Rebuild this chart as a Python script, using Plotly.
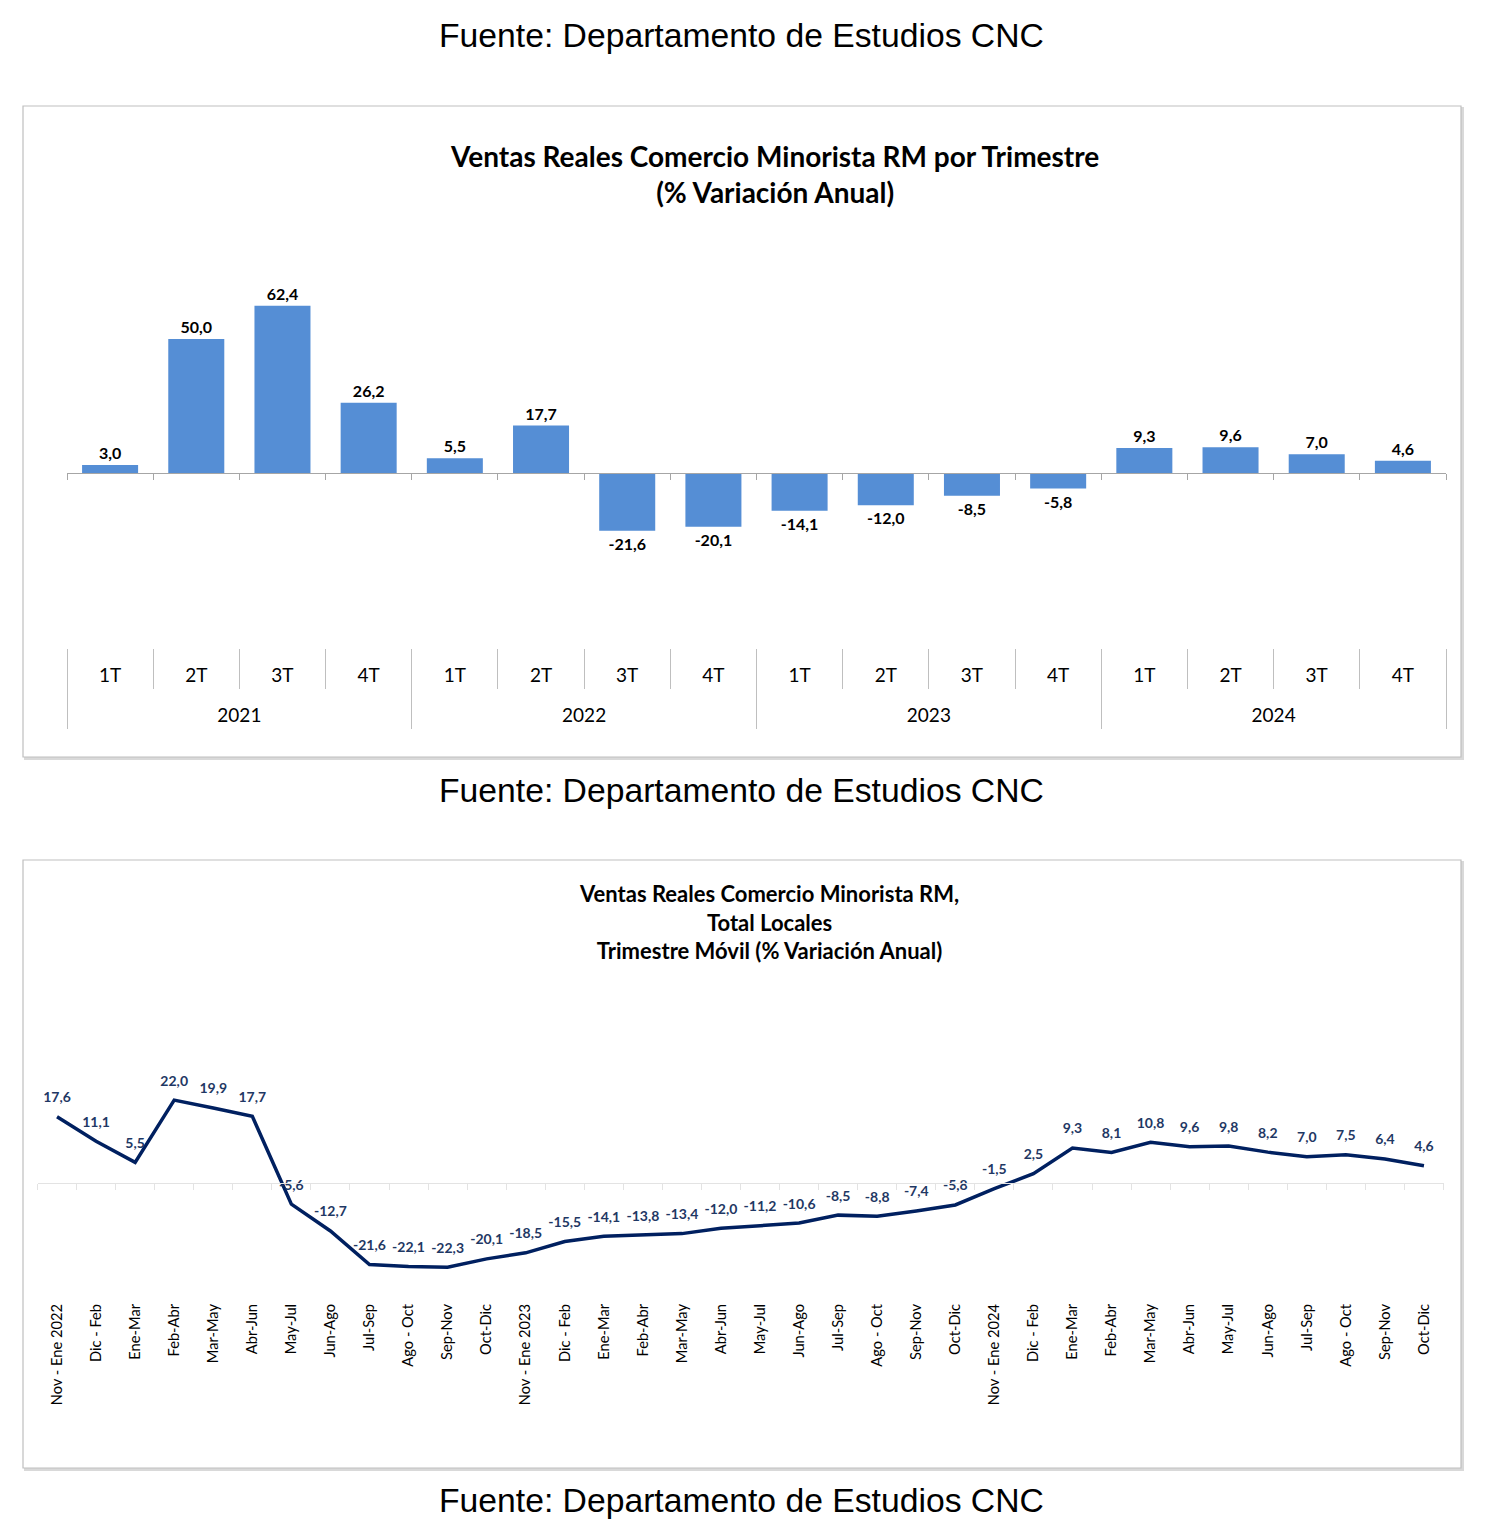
import plotly.graph_objects as go

# page body has an 8px margin; figure is sized/offset to compensate
OFF = 8
W, H = 1500 - OFF, 1527 - OFF


def px_x(p):
    return (p - OFF) / W


def px_y(p):
    return 1 - (p - OFF) / H


# ---------------- data ----------------
year_labels = ["2021", "2022", "2023", "2024"]
quarter_labels = ["1T", "2T", "3T", "4T"] * 4
bar_values = [3.0, 50.0, 62.4, 26.2, 5.5, 17.7, -21.6, -20.1,
              -14.1, -12.0, -8.5, -5.8, 9.3, 9.6, 7.0, 4.6]
bar_pos = list(range(len(bar_values)))
year_centers = [1.5, 5.5, 9.5, 13.5]
quarter_bounds = [i - 0.5 for i in range(17)]
year_bounds = [-0.5, 3.5, 7.5, 11.5, 15.5]

line_labels = [
    "Nov - Ene 2022", "Dic - Feb", "Ene-Mar", "Feb-Abr", "Mar-May", "Abr-Jun",
    "May-Jul", "Jun-Ago", "Jul-Sep", "Ago - Oct", "Sep-Nov", "Oct-Dic",
    "Nov - Ene 2023", "Dic - Feb", "Ene-Mar", "Feb-Abr", "Mar-May", "Abr-Jun",
    "May-Jul", "Jun-Ago", "Jul-Sep", "Ago - Oct", "Sep-Nov", "Oct-Dic",
    "Nov - Ene 2024", "Dic - Feb", "Ene-Mar", "Feb-Abr", "Mar-May", "Abr-Jun",
    "May-Jul", "Jun-Ago", "Jul-Sep", "Ago - Oct", "Sep-Nov", "Oct-Dic",
]
line_values = [17.6, 11.1, 5.5, 22.0, 19.9, 17.7, -5.6, -12.7, -21.6, -22.1, -22.3, -20.1,
               -18.5, -15.5, -14.1, -13.8, -13.4, -12.0, -11.2, -10.6, -8.5, -8.8, -7.4, -5.8,
               -1.5, 2.5, 9.3, 8.1, 10.8, 9.6, 9.8, 8.2, 7.0, 7.5, 6.4, 4.6]
line_pos = list(range(len(line_labels)))

source_text = "Fuente: Departamento de Estudios CNC"
title1 = "Ventas Reales Comercio Minorista RM por Trimestre<br>(% Variación Anual)"
title2 = "Ventas Reales Comercio Minorista RM,<br>Total Locales<br>Trimestre Móvil (% Variación Anual)"

# ---------------- layout geometry ----------------
bar_yr = [-64.2, 68.0]
bar_ydom = [px_y(645), px_y(290.8)]
bar_xdom = [px_x(67), px_x(1446)]
bar_xr = [-0.5, 15.5]
bar_zero = bar_ydom[0] + (0 - bar_yr[0]) / (bar_yr[1] - bar_yr[0]) * (bar_ydom[1] - bar_ydom[0])

line_yr = [-31.0, 40.0]
line_ydom = [px_y(1300), px_y(1032.2)]
line_xdom = [px_x(37.5), px_x(1443.5)]
line_xr = [-0.5, 35.5]
line_zero = line_ydom[0] + (0 - line_yr[0]) / (line_yr[1] - line_yr[0]) * (line_ydom[1] - line_ydom[0])

FONT = "Lato"
GRID = "#bfbfbf"

fig = go.Figure()

# bars (on the zero-line axis); transparent outline only pads the outside labels
fig.add_trace(go.Bar(
    x=bar_pos, y=bar_values,
    marker=dict(color="#558ED5", line=dict(width=9, color="rgba(255,255,255,0)")),
    texttemplate="%{y:.1f}", textposition="outside",
    textfont=dict(family=FONT, size=16, color="#000000", weight="bold"),
    cliponaxis=False, xaxis="x", yaxis="y", showlegend=False, hoverinfo="skip",
))
# invisible helpers so the category-label axes are drawn
for ax in ["x5", "x6"]:
    fig.add_trace(go.Scatter(
        x=bar_xr, y=[0, 0], mode="lines", opacity=0,
        xaxis=ax, yaxis="y", showlegend=False, hoverinfo="skip",
    ))

# line
fig.add_trace(go.Scatter(
    x=line_pos, y=line_values, mode="lines+markers+text",
    line=dict(color="#002060", width=3.5),
    marker=dict(size=16, color="rgba(0,0,0,0)"),
    texttemplate="%{y:.1f}", textposition="top center",
    textfont=dict(family=FONT, size=14, color="#1F3864", weight="bold"),
    cliponaxis=False, xaxis="x3", yaxis="y3", showlegend=False, hoverinfo="skip",
))
fig.add_trace(go.Scatter(
    x=line_xr, y=[0, 0], mode="lines", opacity=0,
    xaxis="x4", yaxis="y3", showlegend=False, hoverinfo="skip",
))

shapes = []
for top, bottom in [(106, 757), (860, 1468)]:
    shapes.append(dict(type="rect", xref="paper", yref="paper", layer="below",
                       x0=px_x(25), x1=px_x(1463), y0=px_y(bottom + 2), y1=px_y(top + 2),
                       line=dict(color="#d9d9d9", width=2), fillcolor="#d9d9d9"))
    shapes.append(dict(type="rect", xref="paper", yref="paper", layer="below",
                       x0=px_x(23), x1=px_x(1461), y0=px_y(bottom), y1=px_y(top),
                       line=dict(color=GRID, width=1.2), fillcolor="#ffffff"))

annotations = []
for yc in [35, 790, 1500]:
    annotations.append(dict(text=source_text, xref="paper", yref="paper", x=px_x(741), y=px_y(yc),
                            showarrow=False, xanchor="center", yanchor="middle",
                            font=dict(family="Liberation Sans", size=33.7, color="#000000")))
annotations.append(dict(text="<b>" + title1 + "</b>", xref="paper", yref="paper",
                        x=px_x(775), y=px_y(174), showarrow=False, xanchor="center", yanchor="middle",
                        font=dict(family=FONT, size=28, color="#000000")))
annotations.append(dict(text="<b>" + title2 + "</b>", xref="paper", yref="paper",
                        x=px_x(769), y=px_y(922), showarrow=False, xanchor="center", yanchor="middle",
                        font=dict(family=FONT, size=22, color="#000000")))

fig.update_layout(
    width=W, height=H, autosize=False,
    margin=dict(l=0, r=0, t=0, b=0),
    paper_bgcolor="#ffffff", plot_bgcolor="rgba(0,0,0,0)",
    separators=", ",
    bargap=0.35,
    shapes=shapes, annotations=annotations,
    # zero line of bar chart with small boundary ticks
    xaxis=dict(domain=bar_xdom, anchor="free", position=bar_zero,
               range=bar_xr, tick0=-0.5, dtick=1, ticks="outside", ticklen=6,
               tickcolor="#a6a6a6", showline=True, linecolor="#a6a6a6", linewidth=1,
               showticklabels=False, showgrid=False, zeroline=False),
    # quarter labels
    xaxis5=dict(domain=bar_xdom, overlaying="x", anchor="free", position=px_y(648),
                range=bar_xr, tickmode="array", tickvals=bar_pos, ticktext=quarter_labels,
                ticks="", showline=False, showgrid=False, zeroline=False,
                ticklabelstandoff=14,
                tickfont=dict(family=FONT, size=19, color="#000000"),
                minor=dict(tickmode="array", tickvals=quarter_bounds, ticks="outside",
                           ticklen=40, tickcolor=GRID, tickwidth=1, showgrid=False)),
    # year labels
    xaxis6=dict(domain=bar_xdom, overlaying="x", anchor="free", position=px_y(688),
                range=bar_xr, tickmode="array", tickvals=year_centers, ticktext=year_labels,
                ticks="", showline=False, showgrid=False, zeroline=False,
                ticklabelstandoff=14,
                tickfont=dict(family=FONT, size=19, color="#000000"),
                minor=dict(tickmode="array", tickvals=year_bounds, ticks="outside",
                           ticklen=40, tickcolor=GRID, tickwidth=1, showgrid=False)),
    yaxis=dict(domain=bar_ydom, anchor="x", range=bar_yr, visible=False),
    # line chart category labels
    xaxis3=dict(domain=line_xdom, anchor="y3", range=line_xr,
                tickmode="array", tickvals=line_pos, ticktext=line_labels, tickangle=-90,
                showline=False, showgrid=False, zeroline=False, ticks="",
                tickfont=dict(family=FONT, size=14.7, color="#000000")),
    # line chart zero line
    xaxis4=dict(domain=line_xdom, overlaying="x3", anchor="free", position=line_zero,
                range=line_xr, tick0=-0.5, dtick=1, ticks="outside", ticklen=6,
                tickcolor="#e3e3e3", showline=True, linecolor="#e3e3e3", linewidth=1,
                showticklabels=False, showgrid=False, zeroline=False),
    yaxis3=dict(domain=line_ydom, anchor="x3", range=line_yr, visible=False),
)

fig.write_html("out.html")
